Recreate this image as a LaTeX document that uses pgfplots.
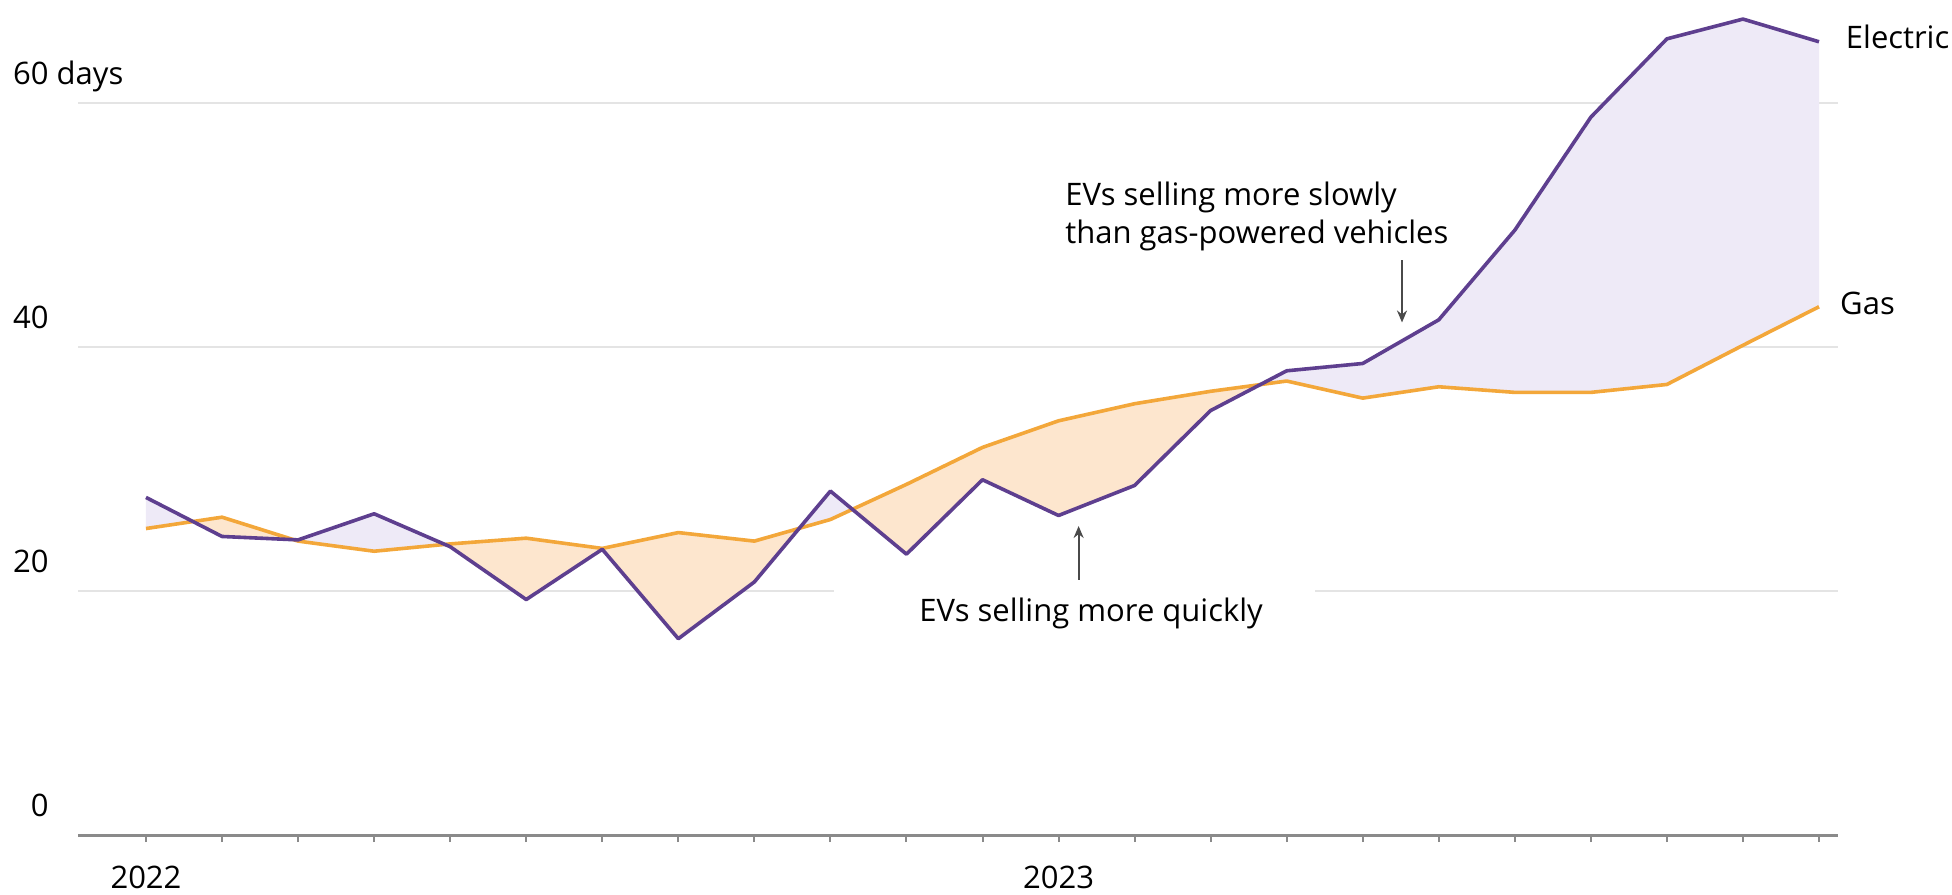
\documentclass[border=0pt]{standalone}
\usepackage{pgfplots}
\pgfplotsset{compat=1.18}
\usepackage{pgfplotstable}
\usepgfplotslibrary{fillbetween}
\usetikzlibrary{arrows.meta}
\usepackage{fontspec}
\setmainfont{Open Sans}
\definecolor{evline}{HTML}{5E3F8F}
\definecolor{gasline}{HTML}{F3A73A}
\definecolor{evfill}{HTML}{EEEAF7}
\definecolor{gasfill}{HTML}{FDE6CE}
\definecolor{gridc}{HTML}{E4E4E4}
\definecolor{axisc}{HTML}{8A8A8A}
\definecolor{annc}{HTML}{4A4A4A}

\pgfplotstableread{
i ev gas
0 27.67 25.12
1 24.47 26.05
2 24.19 24.09
3 26.33 23.26
4 23.63 23.86
5 19.30 24.33
6 23.42 23.49
7 16.09 24.79
8 20.74 24.09
9 28.19 25.86
10 23.02 28.74
11 29.12 31.77
12 26.19 33.95
13 28.65 35.35
14 34.79 36.37
15 38.05 37.21
16 38.65 35.81
17 42.23 36.74
18 49.58 36.28
19 58.84 36.28
20 65.26 36.93
21 66.88 40.14
22 65.02 43.30
}\data

\begin{document}
\fontsize{15.5}{18}\selectfont
\begin{tikzpicture}[font=\fontsize{15.5}{18}\selectfont]
\begin{axis}[
  at={(39pt,29.5pt)}, anchor=south west,
  scale only axis, width=880pt, height=414.8pt,
  xmin=-0.894, xmax=22.25, ymin=0, ymax=68,
  clip=false,
  axis x line*=bottom, axis y line*=left,
  y axis line style={draw=none},
  x axis line style={axisc, line width=1.5pt},
  xtick={0,...,22},
  xticklabels={2022,,,,,,,,,,,,2023},
  tick align=outside, major tick length=3.5pt,
  xtick style={axisc, line width=1pt},
  ytick={0,20,40,60},
  yticklabels={0,20,40,{60\rlap{ days}}},
  ytick style={draw=none},
  ymajorgrids, grid style={gridc, line width=1pt},
  yticklabel style={anchor=base east, inner sep=0pt, xshift=-11pt, yshift=9.5pt},
  xticklabel style={anchor=north, inner sep=0pt, yshift=-12pt},
  tick label style={font=\fontsize{15.5}{18}\selectfont},
  /pgf/number format/assume math mode=true,
]
\addplot[draw=none, name path=E] table[x=i,y=ev]{\data};
\addplot[draw=none, name path=G] table[x=i,y=gas]{\data};
\addplot fill between[of=E and G, split,
  every even segment/.style={fill=evfill},
  every odd segment/.style={fill=gasfill}];
\addplot[gasline, line width=1.8pt, line join=round] table[x=i,y=gas]{\data};
\addplot[evline, line width=1.8pt, line join=round] table[x=i,y=ev]{\data};
\end{axis}
% white gap in the 20 gridline behind the lower annotation
\fill[white] (417pt,122pt) rectangle (657.5pt,159.5pt);
\node[anchor=base west, inner sep=0pt] at (459.5pt,136pt) {EVs selling more quickly};
\node[anchor=base west, inner sep=0pt] at (532.5pt,344pt) {EVs selling more slowly};
\node[anchor=base west, inner sep=0pt] at (532.5pt,325.25pt) {than gas-powered vehicles};
\draw[annc, line width=1pt, -{Stealth[length=6pt,width=5pt]}] (701pt,316.75pt) -- (701pt,285.75pt);
\draw[annc, line width=1pt, -{Stealth[length=6pt,width=5pt]}] (539.3pt,157pt) -- (539.3pt,184pt);
\node[anchor=base west, inner sep=0pt] at (922.75pt,422.8pt) {Electric};
\node[anchor=base west, inner sep=0pt] at (919.9pt,289.75pt) {Gas};
\pgfresetboundingbox
\useasboundingbox (0,0) rectangle (976pt,447pt);
\end{tikzpicture}
\end{document}
